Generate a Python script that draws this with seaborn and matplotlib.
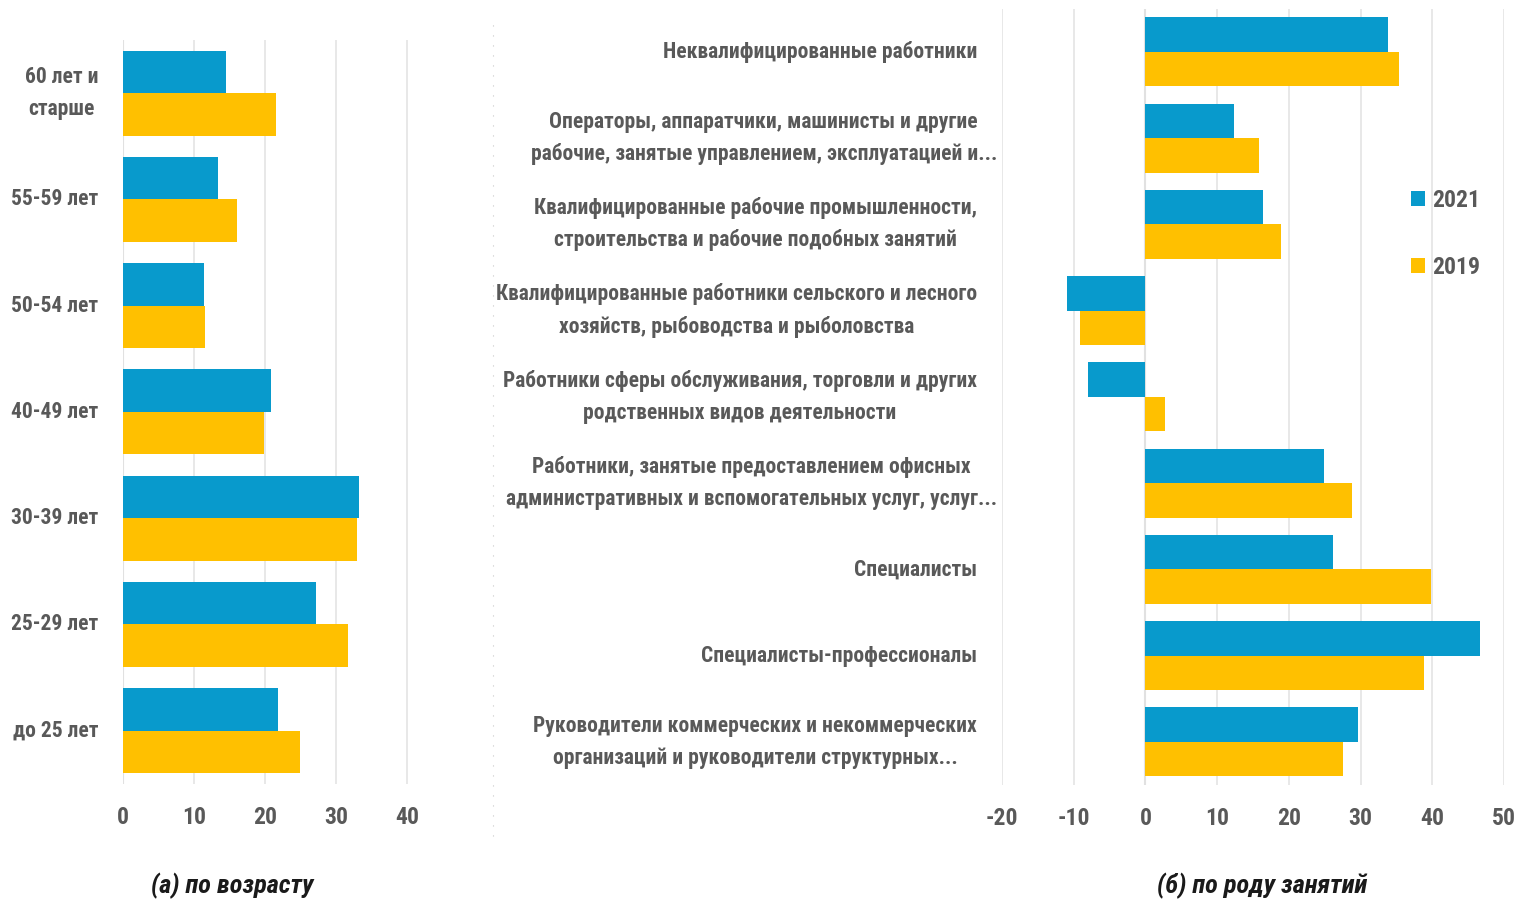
import os
import pandas as pd
import matplotlib.pyplot as plt
import matplotlib.font_manager as fm
import seaborn as sns
from matplotlib.lines import Line2D
from matplotlib.patches import Patch
from matplotlib.transforms import ScaledTranslation

# Данные
age_labels = ["60 лет и\nстарше", "55-59 лет", "50-54 лет", "40-49 лет",
              "30-39 лет", "25-29 лет", "до 25 лет"]
age_2021 = [14.5, 13.4, 11.4, 20.8, 33.2, 27.2, 21.9]
age_2019 = [21.6, 16.0, 11.5, 19.8, 33.0, 31.7, 24.9]

occ_labels = [
    "Неквалифицированные работники",
    "Операторы, аппаратчики, машинисты и другие\nрабочие, занятые управлением, эксплуатацией и...",
    "Квалифицированные рабочие промышленности,\nстроительства и рабочие подобных занятий",
    "Квалифицированные работники сельского и лесного\nхозяйств, рыбоводства и рыболовства",
    "Работники сферы обслуживания, торговли и других\nродственных видов деятельности",
    "Работники, занятые предоставлением офисных\nадминистративных и вспомогательных услуг, услуг...",
    "Специалисты",
    "Специалисты-профессионалы",
    "Руководители коммерческих и некоммерческих\nорганизаций и руководители структурных...",
]
occ_2021 = [33.9, 12.3, 16.4, -10.9, -8.0, 24.9, 26.2, 46.7, 29.7]
occ_2019 = [35.3, 15.8, 18.9, -9.1, 2.8, 28.8, 39.8, 38.8, 27.5]

years = ["2021", "2019"]
colors = {"2021": "#089ACC", "2019": "#FFC000"}
TXT = "#595959"


def find_condensed(style="normal"):
    # ищем узкий жирный шрифт среди установленных
    order = ["roboto", "liberation", "noto", "open", "dejavu"]
    best = None
    for f in fm.fontManager.ttflist:
        base = os.path.basename(f.fname).lower()
        if "semi" in base or "extra" in base or "ultra" in base:
            continue
        if not ("condensed" in base or "narrow" in base):
            continue
        if f.weight not in (700, "bold"):
            continue
        if f.style != style:
            continue
        rank = next((i for i, k in enumerate(order) if k in base), 99)
        if best is None or rank < best[0]:
            best = (rank, f.fname)
    return best[1] if best else None


bold_path = find_condensed("normal")
ital_path = find_condensed("italic") or find_condensed("oblique")


def fp(size, italic=False):
    path = ital_path if italic else bold_path
    if path:
        return fm.FontProperties(fname=path, size=size)
    return fm.FontProperties(family="DejaVu Sans", weight="bold",
                             style="italic" if italic else "normal", size=size)


def to_long(labels, v21, v19):
    d1 = pd.DataFrame({"cat": labels, "value": v21, "year": "2021"})
    d2 = pd.DataFrame({"cat": labels, "value": v19, "year": "2019"})
    return pd.concat([d1, d2], ignore_index=True)


df_age = to_long(age_labels, age_2021, age_2019)
df_occ = to_long(occ_labels, occ_2021, occ_2019)

sns.set_theme(style="white")
plt.rcParams["font.family"] = ["DejaVu Sans"]
plt.rcParams["axes.unicode_minus"] = False

fig = plt.figure(figsize=(15.17, 8.99), dpi=100)
ax1 = fig.add_axes([0.0811, 0.128, 0.1895, 0.8276])
ax2 = fig.add_axes([0.6605, 0.1268, 0.3309, 0.8636])


def style_axis(ax, xlim, ticks, ylab_size, spacing):
    ax.set_xlim(*xlim)
    ax.set_xticks(ticks)
    ax.xaxis.grid(True, color="#E4E4E4", linewidth=1.2)
    ax.set_axisbelow(True)
    for s in ax.spines.values():
        s.set_visible(False)
    ax.set_xlabel("")
    ax.set_ylabel("")
    ax.tick_params(axis="x", length=0, pad=16, labelcolor=TXT)
    ax.tick_params(axis="y", length=0, pad=18, labelcolor=TXT)
    for t in ax.get_xticklabels():
        t.set_fontproperties(fp(17))
    for t in ax.get_yticklabels():
        t.set_fontproperties(fp(ylab_size))
        t.set_multialignment("center")
        t.set_linespacing(spacing)
        t.set_verticalalignment("center")
    ax.axvline(0, color="#D6D6D6", linewidth=1.5, zorder=0.5)


sns.barplot(data=df_age, x="value", y="cat", hue="year", hue_order=years,
            palette=colors, orient="h", width=0.8, saturation=1,
            linewidth=0, ax=ax1, legend=False)
style_axis(ax1, (0, 40.5), [0, 10, 20, 30, 40], 15.5, 1.6)

sns.barplot(data=df_occ, x="value", y="cat", hue="year", hue_order=years,
            palette=colors, orient="h", width=0.8, saturation=1,
            linewidth=0, ax=ax2, legend=False)
style_axis(ax2, (-20, 50), [-20, -10, 0, 10, 20, 30, 40, 50], 15.5, 1.6)

# подписи с многоточием выходят чуть правее, как в исходнике
shift = ScaledTranslation(20 / 100, 0, fig.dpi_scale_trans)
for t in ax2.get_yticklabels():
    if t.get_text().endswith("и...") or t.get_text().endswith("услуг..."):
        t.set_transform(t.get_transform() + shift)

# Легенда
handles = [Patch(facecolor=colors[y], edgecolor="none") for y in years]
leg = fig.legend(handles, years, loc="center left", bbox_to_anchor=(0.930, 0.7397),
                 frameon=False, prop=fp(17), handlelength=0.6, handleheight=0.6,
                 handletextpad=0.3, labelspacing=1.85, borderpad=0, borderaxespad=0)
for t in leg.get_texts():
    t.set_color(TXT)

# Пунктирная разделительная линия между панелями
fig.add_artist(Line2D([493 / 1517, 493 / 1517], [0.07, 0.98], color="#C8C8C8",
                      linewidth=0.8, linestyle=(0, (1, 8))))

# Подписи панелей
fig.text(232 / 1517, 1 - 886 / 899, "(а) по возрасту", ha="center", va="center",
         fontproperties=fp(19, italic=True), color="#1A1A1A")
fig.text(1262 / 1517, 1 - 886 / 899, "(б) по роду занятий", ha="center", va="center",
         fontproperties=fp(19, italic=True), color="#1A1A1A")

fig.savefig("out.png", dpi=100)
